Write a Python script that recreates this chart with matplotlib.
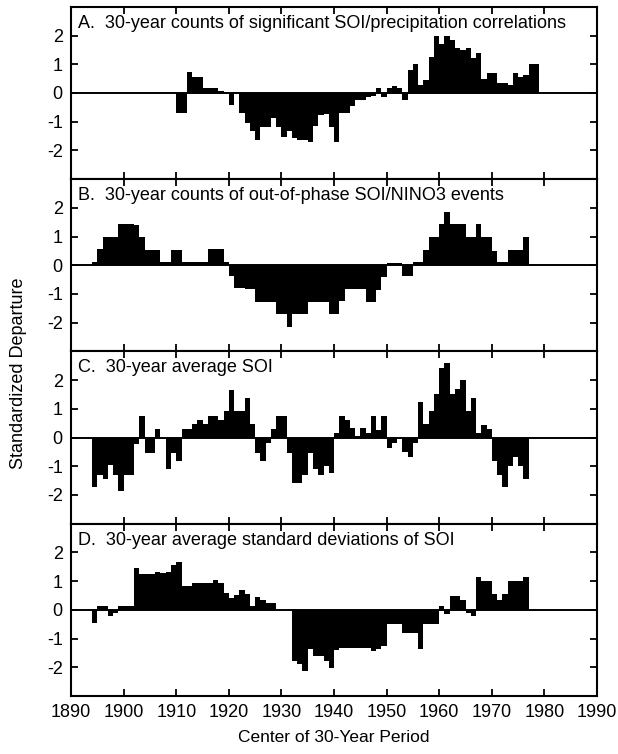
import numpy as np
import matplotlib
matplotlib.use("Agg")
import matplotlib.pyplot as plt

plt.rcParams['font.family'] = ['Liberation Sans', 'DejaVu Sans']
plt.rcParams['axes.unicode_minus'] = False

# A. 30-year counts of significant SOI/precipitation correlations (from 1910)
start_a = 1910
vals_a = [-0.71, -0.71, 0.72, 0.55, 0.55, 0.17, 0.17, 0.17, 0.06, 0.03,
          -0.43, 0.02, -0.69, -1.06, -1.34, -1.63, -1.17, -1.17, -0.89, -1.17,
          -1.52, -1.34, -1.57, -1.63, -1.63, -1.71, -1.15, -0.77, -0.72, -1.20,
          -1.72, -0.70, -0.70, -0.44, -0.24, -0.24, -0.15, -0.09, 0.16, -0.15,
          0.16, 0.25, 0.16, -0.24, 0.80, 1.00, 0.27, 0.46, 1.26, 2.00,
          1.72, 2.00, 1.84, 1.56, 1.48, 1.56, 1.20, 1.38, 0.50, 0.71,
          0.71, 0.34, 0.34, 0.28, 0.71, 0.56, 0.64, 1.02, 1.02]

# B. 30-year counts of out-of-phase SOI/NINO3 events (from 1894)
start_b = 1894
vals_b = [0.12, 0.56, 1.00, 1.00, 1.00, 1.43, 1.43, 1.43, 1.40, 1.00,
          0.52, 0.52, 0.52, 0.10, 0.10, 0.52, 0.52, 0.10, 0.10, 0.10,
          0.10, 0.10, 0.56, 0.56, 0.56, 0.10, -0.37, -0.81, -0.81, -0.84,
          -0.84, -1.28, -1.28, -1.28, -1.28, -1.71, -1.71, -2.15, -1.71, -1.71,
          -1.71, -1.28, -1.28, -1.28, -1.28, -1.70, -1.70, -1.26, -0.83, -0.83,
          -0.83, -0.83, -1.29, -1.29, -0.85, -0.42, 0.08, 0.08, 0.08, -0.38,
          -0.38, 0.10, 0.10, 0.53, 0.99, 0.99, 1.42, 1.86, 1.44, 1.44,
          1.44, 0.99, 0.99, 1.44, 0.99, 0.99, 0.51, 0.10, 0.10, 0.53,
          0.53, 0.53, 0.99]

# C. 30-year average SOI (from 1894)
start_c = 1894
vals_c = [-1.72, -1.29, -1.43, -0.96, -1.29, -1.86, -1.29, -1.29, -0.22, 0.76,
          -0.53, -0.53, 0.29, -0.05, -1.11, -0.53, -0.81, 0.29, 0.29, 0.47,
          0.60, 0.47, 0.76, 0.76, 0.62, 0.91, 1.67, 0.94, 0.94, 1.37,
          0.47, -0.53, -0.81, -0.20, 0.29, 0.76, 0.76, -0.53, -1.58, -1.58,
          -1.29, -0.55, -1.11, -1.29, -1.00, -1.25, 0.15, 0.76, 0.62, 0.33,
          0.05, 0.33, 0.15, 0.76, 0.27, 0.76, -0.35, -0.20, -0.03, -0.49,
          -0.67, -0.20, 1.23, 0.47, 0.91, 1.53, 2.43, 2.58, 1.53, 1.70,
          1.99, 0.91, 1.38, 0.15, 0.44, 0.29, -0.81, -1.29, -1.74, -1.00,
          -0.67, -1.00, -1.43]

# D. 30-year average standard deviations of SOI (from 1894)
start_d = 1894
vals_d = [-0.46, 0.12, 0.12, -0.22, -0.12, 0.12, 0.12, 0.12, 1.45, 1.24,
          1.24, 1.24, 1.33, 1.27, 1.33, 1.56, 1.68, 0.82, 0.82, 0.92,
          0.92, 0.92, 0.92, 1.04, 0.92, 0.60, 0.42, 0.50, 0.68, 0.56,
          0.12, 0.45, 0.35, 0.25, 0.25, 0.00, 0.00, 0.00, -1.79, -1.90,
          -2.12, -1.38, -1.61, -1.61, -1.79, -2.02, -1.41, -1.32, -1.32, -1.33,
          -1.33, -1.33, -1.33, -1.45, -1.38, -1.25, -0.50, -0.50, -0.50, -0.80,
          -0.80, -0.80, -1.38, -0.50, -0.50, -0.50, 0.12, -0.14, 0.47, 0.47,
          0.34, -0.12, -0.22, 1.15, 1.01, 1.01, 0.56, 0.35, 0.56, 1.01,
          1.01, 1.01, 1.13]

titles = ["A.  30-year counts of significant SOI/precipitation correlations",
          "B.  30-year counts of out-of-phase SOI/NINO3 events",
          "C.  30-year average SOI",
          "D.  30-year average standard deviations of SOI"]
starts = [start_a, start_b, start_c, start_d]
series = [vals_a, vals_b, vals_c, vals_d]

xticks = [1890, 1900, 1910, 1920, 1930, 1940, 1950, 1960, 1970, 1980, 1990]
yticks = [-2, -1, 0, 1, 2]

fig, axes = plt.subplots(4, 1, sharex=True, figsize=(6.18, 7.54), dpi=100,
                         gridspec_kw=dict(hspace=0))
fig.subplots_adjust(left=0.115, right=0.966, top=0.991, bottom=0.077)

for ax, title, start, vals in zip(axes, titles, starts, series):
    years = np.arange(start, start + len(vals))
    ax.bar(years, vals, width=1.0, align='edge', color='black', linewidth=0)
    ax.axhline(0, color='black', lw=1.4)
    ax.set_xlim(1890, 1990)
    ax.set_ylim(-3, 3)
    ax.set_yticks(yticks)
    ax.set_xticks(xticks)
    ax.tick_params(direction='in', top=True, right=True, length=5, width=1.3,
                   labelsize=13, pad=6)
    for s in ax.spines.values():
        s.set_linewidth(1.5)
    ax.text(0.013, 0.905, title, transform=ax.transAxes, ha='left', va='center',
            fontsize=13)

axes[-1].set_xlabel("Center of 30-Year Period", fontsize=12.5, labelpad=6)
fig.text(0.03, 0.505, "Standardized Departure", rotation=90, ha='center',
         va='center', fontsize=13)

fig.savefig("out.png", dpi=100, facecolor='white')
